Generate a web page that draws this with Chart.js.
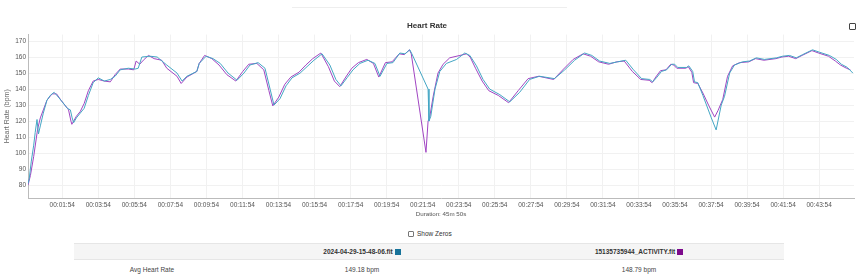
<!DOCTYPE html>
<html>
<head>
<meta charset="utf-8">
<script src="https://cdn.jsdelivr.net/npm/chart.js@4.4.1/dist/chart.umd.min.js"></script>
<style>
    body { margin: 0; font-family: "Liberation Sans", Arial, sans-serif; background: #fff; color: #333; }
    .tabline { position: absolute; left: 292px; top: 7px; width: 275px; height: 1px; background: #eee; }
    .chartBox { position: absolute; left: 0; top: 0; width: 860px; height: 222px; }
    .expand { position: absolute; left: 849px; top: 23px; width: 5px; height: 5px; border: 1px solid #444; border-radius: 1px; }
    .zeros { position: absolute; left: 0; top: 230px; width: 860px; font-size: 6.5px; }
    .zeros span.box { position: absolute; left: 408px; top: 1px; width: 4px; height: 4px; border: 1px solid #777; border-radius: 1px; }
    .zeros span.lbl { position: absolute; left: 417px; top: 0; }
    table { position: absolute; left: 74px; top: 243px; width: 710px; border-collapse: collapse; font-size: 6.5px; }
    th, td { text-align: center; padding: 0; }
    thead tr { background: #f5f5f5; height: 16px; border-top: 1px solid #e6e6e6; border-bottom: 1px solid #e6e6e6; }
    th { font-weight: bold; color: #333; }
    td { height: 18px; color: #444; }
    .sq { display: inline-block; width: 6px; height: 6px; vertical-align: -1px; margin-left: 2px; }
</style>
</head>
<body>
<div class="tabline"></div>
<div class="chartBox"><canvas id="hrChart" width="860" height="222"></canvas></div>
<div class="expand"></div>
<div class="zeros"><span class="box"></span><span class="lbl">Show Zeros</span></div>
<table>
    <thead>
        <tr><th style="width:156px"></th><th style="width:264px">2024-04-29-15-48-06.fit<span class="sq" style="background:#17739a"></span></th><th>15135735944_ACTIVITY.fit<span class="sq" style="background:#7d0a8c"></span></th></tr>
    </thead>
    <tbody>
        <tr><td>Avg Heart Rate</td><td>149.18 bpm</td><td>148.79 bpm</td></tr>
    </tbody>
</table>
<script>
// elapsed seconds / bpm
const tealTime = [0, 4, 11, 19, 24, 30, 35, 41, 51, 63, 74, 87, 101, 114, 131, 141, 147, 152, 161, 174, 187, 201, 217, 234, 254, 274, 290, 307, 334, 357, 367, 379, 407, 430, 462, 496, 513, 529, 562, 570, 593, 616, 640, 666, 696, 719, 739, 766, 789, 806, 819, 839, 859, 879, 906, 929, 952, 979, 1005, 1025, 1042, 1062, 1082, 1105, 1132, 1155, 1172, 1195, 1215, 1238, 1255, 1271, 1278, 1332, 1335, 1341, 1355, 1371, 1393, 1427, 1454, 1471, 1493, 1515, 1537, 1571, 1604, 1637, 1670, 1703, 1753, 1787, 1820, 1853, 1877, 1903, 1937, 1963, 1990, 2016, 2043, 2070, 2080, 2092, 2109, 2126, 2143, 2153, 2163, 2193, 2200, 2213, 2219, 2230, 2247, 2275, 2291, 2308, 2319, 2336, 2352, 2379, 2402, 2425, 2452, 2492, 2512, 2535, 2558, 2579, 2612, 2635, 2668, 2691, 2708, 2728, 2746];
const tealHr = [81, 84, 95, 105, 113, 121, 112, 117, 125, 133, 136, 138, 135, 132, 128, 127, 122, 119, 122, 125, 128, 136, 144, 147, 145, 146, 148, 152, 153, 152.5, 153, 160, 160.5, 160, 155, 150, 145, 148, 151, 156, 160.5, 159, 156, 150, 145.5, 150, 155, 156.5, 153, 140, 130, 134, 142, 147, 150, 154, 158, 162, 155, 146, 142, 147, 152, 156, 158, 156, 148, 156, 156.5, 162.5, 162, 164.5, 162, 140, 120, 123, 140, 151, 156, 158.5, 162.5, 161, 154.5, 146, 140, 136.5, 132, 138, 146, 148, 146.5, 152, 158, 162.5, 161, 157.5, 156, 157, 158, 152, 146.5, 146, 144.5, 147, 151, 152, 155.5, 155.5, 153.5, 153.5, 154.5, 151, 144.5, 144, 136, 122, 114.5, 130, 135.5, 150, 155, 157, 157.5, 159.5, 158.5, 159.5, 160.5, 161, 159.5, 161.5, 164.5, 163, 161, 158.5, 155.5, 153.5, 150];

const purpleTime = [0, 8, 19, 32, 41, 51, 63, 80, 95, 110, 131, 135, 143, 146, 152, 161, 174, 187, 201, 217, 234, 254, 274, 290, 307, 334, 352, 360, 372, 384, 401, 420, 445, 462, 496, 510, 529, 562, 570, 588, 612, 636, 662, 692, 715, 735, 762, 785, 802, 815, 835, 855, 875, 902, 925, 948, 975, 1000, 1020, 1038, 1058, 1078, 1100, 1128, 1150, 1168, 1190, 1212, 1236, 1253, 1270, 1276, 1325, 1332, 1337, 1349, 1365, 1382, 1404, 1438, 1460, 1472, 1490, 1512, 1534, 1566, 1600, 1632, 1665, 1700, 1750, 1783, 1815, 1848, 1873, 1900, 1933, 1960, 1985, 2012, 2040, 2068, 2078, 2090, 2106, 2124, 2140, 2150, 2160, 2190, 2198, 2210, 2216, 2230, 2247, 2267, 2286, 2297, 2313, 2329, 2346, 2369, 2400, 2422, 2450, 2490, 2510, 2532, 2556, 2577, 2610, 2632, 2665, 2688, 2705, 2725, 2738];
const purpleHr = [80, 86, 98, 115, 122, 127, 133, 137, 137, 133, 128, 127, 120, 118, 120, 123, 126, 131, 139, 145, 146, 145, 144.5, 149, 152.5, 152.5, 152, 157.5, 155.5, 158, 161, 159, 158, 153, 148, 143.5, 147.5, 151, 156, 161, 159, 155, 149, 145, 151, 155.5, 156, 152, 139, 129.5, 135, 143, 147.5, 150.5, 155, 159, 162.5, 154, 145, 141.5, 147.5, 153, 156.5, 158.5, 156, 147.5, 156.5, 157, 162, 161.5, 164.5, 162, 100.5, 120, 122, 135.5, 150, 155.5, 159.5, 161, 162, 160, 153, 145, 139, 136, 131.5, 139, 146.5, 148, 146, 152.5, 158.5, 162, 160.5, 157, 155.5, 157, 157.5, 151, 146, 145.5, 144, 147.5, 151.5, 152, 155.5, 155, 153, 153, 154, 150.5, 144, 143.5, 137.5, 129.5, 122.5, 126.5, 133.5, 148, 154.5, 156.5, 157, 159, 158, 159, 160, 160.5, 159, 161, 164, 162.5, 160.5, 157.5, 155, 153, 152];

const yTicks = [80, 90, 100, 110, 120, 130, 140, 150, 160, 170];
const xTicks = [114, 234, 354, 474, 594, 714, 834, 954, 1074, 1194, 1314, 1434, 1554, 1674, 1794, 1914, 2034, 2154, 2274, 2394, 2514, 2634];

function toPoints(times, values) {
    return times.map((t, i) => ({ x: t, y: values[i] }));
}

function hms(sec) {
    const h = Math.floor(sec / 3600);
    const m = Math.floor((sec % 3600) / 60);
    const s = sec % 60;
    return [h, m, s].map(n => String(n).padStart(2, "0")).join(":");
}

const FONT = "'Liberation Sans', Arial, sans-serif";

new Chart(document.getElementById("hrChart"), {
    type: "line",
    data: {
        datasets: [{
            label: "2024-04-29-15-48-06.fit",
            data: toPoints(tealTime, tealHr),
            borderColor: "#44a6c4",
            borderWidth: 1,
            pointRadius: 0,
            tension: 0
        }, {
            label: "15135735944_ACTIVITY.fit",
            data: toPoints(purpleTime, purpleHr),
            borderColor: "#a045c2",
            borderWidth: 1,
            pointRadius: 0,
            tension: 0
        }]
    },
    options: {
        responsive: false,
        animation: false,
        layout: { padding: { left: 0, right: 6, top: 0, bottom: 0 } },
        plugins: {
            legend: { display: false },
            tooltip: { enabled: false },
            title: {
                display: true,
                text: "Heart Rate",
                color: "#333",
                font: { family: FONT, size: 8, weight: "bold" },
                padding: { top: 21, bottom: 4 }
            }
        },
        scales: {
            x: {
                type: "linear",
                min: 0,
                max: 2750,
                afterBuildTicks: s => { s.ticks = xTicks.map(v => ({ value: v })); },
                afterFit: s => { s.height = 24; },
                ticks: {
                    callback: v => hms(v),
                    color: "#555",
                    font: { family: FONT, size: 6.5 },
                    padding: 3.5,
                    maxRotation: 0,
                    autoSkip: false
                },
                grid: { color: "#f1f1f1", drawTicks: false },
                border: { color: "#bbb" },
                title: {
                    display: true,
                    text: "Duration: 45m 50s",
                    color: "#555",
                    font: { family: FONT, size: 6.2 },
                    padding: { top: 0, bottom: 4.3 }
                }
            },
            y: {
                min: 72,
                max: 174,
                afterBuildTicks: s => { s.ticks = yTicks.map(v => ({ value: v })); },
                afterFit: s => { s.width = 28; },
                ticks: {
                    color: "#555",
                    font: { family: FONT, size: 6.5 },
                    padding: 2
                },
                grid: { color: "#f1f1f1", drawTicks: false },
                border: { color: "#bbb" },
                title: {
                    display: true,
                    text: "Heart Rate (bpm)",
                    color: "#666",
                    font: { family: FONT, size: 7 },
                    padding: { top: 3, bottom: 2 }
                }
            }
        }
    }
});
</script>
</body>
</html>
